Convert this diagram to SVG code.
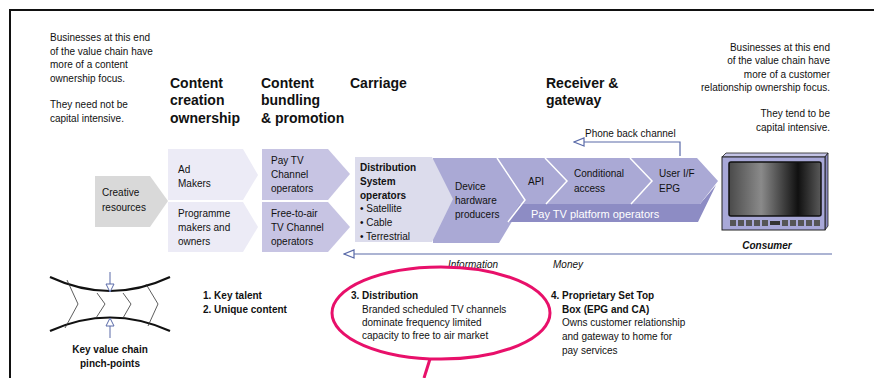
<svg xmlns="http://www.w3.org/2000/svg" width="874" height="378" viewBox="0 0 874 378">
  <defs>
    <style>
      text { font-family: "Liberation Sans", Arial, sans-serif; fill: #111; }
      .t { font-size: 10px; }
      .b { font-size: 10px; font-weight: bold; }
      .h { font-size: 14px; font-weight: bold; }
      .i { font-size: 10px; font-style: italic; }
      .w { font-size: 11px; fill: #fff; }
      .sep { fill: none; stroke: #fff; stroke-width: 1.5; }
      .flow { fill: none; stroke: #5a6aa8; stroke-width: 1.2; }
      .pinch { fill: none; stroke: #111; stroke-width: 2.2; }
      .zig { fill: none; stroke: #333; stroke-width: 0.8; }
    </style>
    <marker id="openArrow" markerWidth="12" markerHeight="10" refX="11" refY="5" orient="auto" markerUnits="userSpaceOnUse">
      <path d="M1,1 L11,5 L1,9 Z" fill="#fff" stroke="#5a6aa8" stroke-width="1.2"/>
    </marker>
    <marker id="pinchArrow" markerWidth="10" markerHeight="10" refX="9" refY="5" orient="auto" markerUnits="userSpaceOnUse">
      <path d="M1,1 L9,5 L1,9 Z" fill="#fff" stroke="#5a6aa8" stroke-width="1"/>
    </marker>
    <linearGradient id="screen" x1="0" y1="0" x2="1" y2="0">
      <stop offset="0" stop-color="#4a4a4a"/>
      <stop offset="0.35" stop-color="#8a8a8a"/>
      <stop offset="0.75" stop-color="#101010"/>
      <stop offset="1" stop-color="#5a5a5a"/>
    </linearGradient>
  </defs>

  <!-- page frame -->
  <path d="M10,378 L10,10 L874,10" fill="none" stroke="#111" stroke-width="2"/>

  <!-- side notes -->
  <g id="note-left">
    <text class="t" x="50" y="41">Businesses at this end</text>
    <text class="t" x="50" y="55">of the value chain have</text>
    <text class="t" x="50" y="68">more of a content</text>
    <text class="t" x="50" y="82">ownership focus.</text>
    <text class="t" x="50" y="108">They need not be</text>
    <text class="t" x="50" y="122">capital intensive.</text>
  </g>
  <g id="note-right" text-anchor="end">
    <text class="t" x="830" y="51">Businesses at this end</text>
    <text class="t" x="830" y="64">of the value chain have</text>
    <text class="t" x="830" y="78">more of a customer</text>
    <text class="t" x="830" y="91">relationship ownership focus.</text>
    <text class="t" x="830" y="117">They tend to be</text>
    <text class="t" x="830" y="131">capital intensive.</text>
  </g>

  <!-- stage headings -->
  <g id="headings">
    <text class="h" x="170" y="88">Content</text>
    <text class="h" x="170" y="105">creation</text>
    <text class="h" x="170" y="123">ownership</text>
    <text class="h" x="261" y="88">Content</text>
    <text class="h" x="261" y="105">bundling</text>
    <text class="h" x="261" y="123">&amp; promotion</text>
    <text class="h" x="350" y="88">Carriage</text>
    <text class="h" x="546" y="88">Receiver &amp;</text>
    <text class="h" x="546" y="105">gateway</text>
  </g>

  <!-- value chain chevrons -->
  <g id="creative">
    <polygon points="95,176 150,176 168,201 150,227 95,227" fill="#d9d9d9"/>
    <text class="t" x="102" y="196">Creative</text>
    <text class="t" x="102" y="211">resources</text>
  </g>
  <g id="ad-makers">
    <polygon points="168,149 243,149 258,175 243,200 168,200" fill="#ecebf6"/>
    <text class="t" x="178" y="173">Ad</text>
    <text class="t" x="178" y="187">Makers</text>
  </g>
  <g id="programme-makers">
    <polygon points="168,202 243,202 258,227 243,252 168,252" fill="#ecebf6"/>
    <text class="t" x="178" y="217">Programme</text>
    <text class="t" x="178" y="231">makers and</text>
    <text class="t" x="178" y="245">owners</text>
  </g>
  <g id="pay-tv-channels">
    <polygon points="262,149 328,149 350,174 328,200 262,200" fill="#c7c4e3"/>
    <text class="t" x="271" y="164">Pay TV</text>
    <text class="t" x="271" y="178">Channel</text>
    <text class="t" x="271" y="192">operators</text>
  </g>
  <g id="free-to-air">
    <polygon points="262,202 328,202 350,227 328,252 262,252" fill="#c7c4e3"/>
    <text class="t" x="271" y="217">Free-to-air</text>
    <text class="t" x="271" y="231">TV Channel</text>
    <text class="t" x="271" y="245">operators</text>
  </g>
  <g id="device-hardware">
    <polygon points="433,158 497,158 525,200 499,243 433,243" fill="#aaa9d5"/>
    <text class="t" x="455" y="190">Device</text>
    <text class="t" x="455" y="204">hardware</text>
    <text class="t" x="455" y="218">producers</text>
  </g>
  <g id="distribution">
    <polygon points="355,157 432,157 453,199 432,242 355,242" fill="#dcdcec"/>
    <text class="b" x="360" y="171">Distribution</text>
    <text class="b" x="360" y="185">System</text>
    <text class="b" x="360" y="199">operators</text>
    <text class="t" x="360" y="212">• Satellite</text>
    <text class="t" x="360" y="226">• Cable</text>
    <text class="t" x="360" y="240">• Terrestrial</text>
  </g>
  <g id="platform-operators">
    <polygon points="520,204 700,204 716,185 698,222 508,222" fill="#8d8cc4"/>
    <text class="w" x="531" y="218">Pay TV platform operators</text>
  </g>
  <g id="gateway-strip">
    <polygon points="497,158 697,158 718,181 700,204 522,204 525,200" fill="#aaa9d5"/>
    <path class="sep" d="M497,158 L525,200 L508,222"/>
    <path class="sep" d="M545,158 L567,181 L546,204"/>
    <path class="sep" d="M630,158 L652,181 L631,204"/>
  </g>
  <g id="api">
    <text class="t" x="528" y="185">API</text>
  </g>
  <g id="conditional-access">
    <text class="t" x="574" y="177">Conditional</text>
    <text class="t" x="574" y="192">access</text>
  </g>
  <g id="user-if">
    <text class="t" x="659" y="177">User I/F</text>
    <text class="t" x="659" y="192">EPG</text>
  </g>

  <!-- consumer television -->
  <g id="consumer">
    <polygon points="722,157 726,153 828,153 825,157" fill="#c4c4e6" stroke="#222" stroke-width="0.8"/>
    <polygon points="825,157 828,153 828,226 825,230" fill="#8a8ac0" stroke="#222" stroke-width="0.8"/>
    <rect x="722" y="157" width="103" height="73" fill="#a8a8d8" stroke="#222" stroke-width="1"/>
    <rect x="729" y="162" width="92" height="54" rx="2" fill="url(#screen)" stroke="#111" stroke-width="1.5"/>
    <g fill="#555">
      <rect x="730" y="220" width="6" height="6"/>
      <rect x="738" y="220" width="6" height="6"/>
      <rect x="746" y="220" width="6" height="6"/>
      <rect x="754" y="220" width="6" height="6"/>
      <rect x="762" y="220" width="6" height="6"/>
      <rect x="770" y="221" width="10" height="4" fill="#333"/>
      <rect x="782" y="220" width="6" height="6"/>
      <rect x="790" y="220" width="6" height="6"/>
      <rect x="798" y="220" width="6" height="6"/>
      <rect x="806" y="220" width="6" height="6"/>
      <rect x="814" y="220" width="6" height="6"/>
    </g>
    <text x="767" y="249" text-anchor="middle" style="font-size:10px;font-weight:bold;font-style:italic">Consumer</text>
  </g>

  <!-- flows -->
  <g id="connectors">
    <path class="flow" d="M680,156 L680,142 L574,142" marker-end="url(#openArrow)"/>
    <path class="flow" d="M832,254 L344,254" marker-end="url(#openArrow)"/>
  </g>
  <text class="t" x="585" y="137">Phone back channel</text>
  <text class="i" x="448" y="268">Information</text>
  <text class="i" x="553" y="268">Money</text>

  <!-- pinch-point legend -->
  <g id="pinch-points">
    <path class="pinch" d="M50,277 Q110,305 170,277"/>
    <path class="pinch" d="M50,331 Q110,304 170,331"/>
    <path class="zig" d="M67,280 L78,304 L65,328"/>
    <path class="zig" d="M97,293 L105,304 L96,318"/>
    <path class="zig" d="M123,293 L131,304 L123,318"/>
    <path class="zig" d="M146,284 L158,304 L148,326"/>
    <path d="M110,272 L110,292" stroke="#5a6aa8" stroke-width="1" marker-end="url(#pinchArrow)"/>
    <path d="M110,338 L110,318" stroke="#5a6aa8" stroke-width="1" marker-end="url(#pinchArrow)"/>
    <text class="b" x="110" y="353" text-anchor="middle">Key value chain</text>
    <text class="b" x="110" y="367" text-anchor="middle">pinch-points</text>
  </g>

  <g id="pinch-1-2">
    <text class="b" x="203" y="299">1.  Key talent</text>
    <text class="b" x="203" y="313">2.  Unique content</text>
  </g>
  <g id="pinch-3">
    <text class="b" x="351" y="299">3. Distribution</text>
    <text class="t" x="362" y="313">Branded scheduled TV channels</text>
    <text class="t" x="362" y="326">dominate frequency limited</text>
    <text class="t" x="362" y="339">capacity to free to air market</text>
  </g>
  <g id="pinch-4">
    <text class="b" x="551" y="299">4. Proprietary Set Top</text>
    <text class="b" x="562" y="313">Box (EPG and CA)</text>
    <text class="t" x="562" y="326">Owns customer relationship</text>
    <text class="t" x="562" y="340">and gateway to home for</text>
    <text class="t" x="562" y="354">pay services</text>
  </g>

  <!-- highlight -->
  <g id="highlight">
    <ellipse cx="441" cy="313" rx="109" ry="46" fill="none" stroke="#e8106a" stroke-width="3"/>
    <path d="M430,359 L424,378" stroke="#e8106a" stroke-width="3"/>
  </g>
</svg>
